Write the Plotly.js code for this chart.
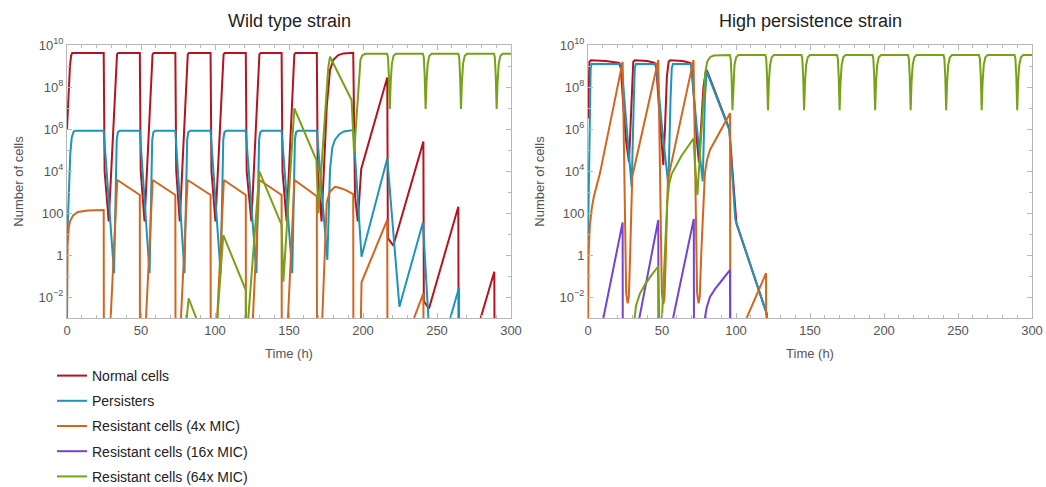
<!DOCTYPE html>
<html>
<head>
<meta charset="utf-8">
<script src="https://cdn.plot.ly/plotly-3.0.1.min.js"></script>
<style>
  html, body { margin: 0; padding: 0; background: #ffffff; }
  #chart { width: 1046px; height: 487px; }
</style>
</head>
<body>
<div id="chart"></div>
<script>
// ---- Data: [time (h), log10(number of cells)]; [null,null] = gap ----
const seriesNames = ["Normal cells", "Persisters", "Resistant cells (4x MIC)", "Resistant cells (16x MIC)", "Resistant cells (64x MIC)"];
const panelTitles = ["Wild type strain", "High persistence strain"];
const yTickVals = [1e-2, 1, 100, 1e4, 1e6, 1e8, 1e10];
const yTickText = ["10<sup>\u22122</sup>", "1", "100", "10<sup>4</sup>", "10<sup>6</sup>", "10<sup>8</sup>", "10<sup>10</sup>"];
const yMinorVals = [1e-3, 1e-1, 10, 1e3, 1e5, 1e7, 1e9];
const xTickVals = [0, 50, 100, 150, 200, 250, 300];

// Wild type strain
const wtNormal = [[0,6.0],[0.8,7.3],[2.0,9.0],[2.8,9.5],[3.5,9.62],[24.8,9.62],[25.4,4.0],[28.2,1.6],[33.8,9.55],[34.6,9.62],
  [49.2,9.62],[49.8,4.0],[52.4,1.6],[57.8,9.55],[58.6,9.62],[73.2,9.62],[73.8,4.0],[76.2,1.6],[81.6,9.55],[82.4,9.62],
  [97.0,9.62],[97.6,4.0],[100.3,1.6],[105.8,9.55],[106.6,9.62],[120.8,9.62],[121.4,4.0],[124.6,1.6],[130.0,9.55],[130.8,9.62],
  [145.0,9.62],[145.6,4.0],[148.4,1.6],[153.6,9.55],[154.4,9.62],[168.8,9.62],[169.4,4.0],[172.0,1.6],[175.5,7.06],[177.7,8.8],
  [180.0,9.3],[183.3,9.52],[187.0,9.6],[193.4,9.63],[194.0,6.0],[194.6,2.8],[196.5,1.6],[198.8,4.1],[216.4,8.45],[216.8,0.8],
  [220.5,0.45],[240.8,5.4],[241.1,-2.2],[244.6,-2.55],[264.4,2.3],[264.6,-4],[null,null],[279.5,-3.0],[288.7,-0.8],[288.9,-4]];
const wtPersisters = [[0,0.5],[0.6,1.5],[2.2,4.8],[3.2,5.6],[4.5,5.88],[6,5.92],[24.8,5.92],[31.8,-0.87],[33.6,5.5],[34.4,5.85],[35.6,5.92],
  [49.2,5.92],[55.8,-0.87],[57.6,5.5],[58.4,5.85],[59.6,5.92],[73.2,5.92],[79.4,-0.87],[81.2,5.5],[82.0,5.85],[83.4,5.92],
  [97.0,5.92],[103.8,-0.87],[105.6,5.5],[106.4,5.85],[107.6,5.92],[120.8,5.92],[128.0,-0.87],[129.8,5.5],[130.6,5.85],[131.8,5.92],
  [145.0,5.92],[152.2,-0.87],[154.0,5.5],[154.8,5.85],[156.0,5.92],[168.8,5.92],[175.9,-0.24],[177.7,4.05],[179.2,5.1],[181.0,5.48],
  [184.0,5.75],[187.0,5.88],[193.5,5.95],[199.0,-0.08],[216.4,4.6],[224.6,-2.46],[240.5,1.55],[244.8,-3.0],[245.0,-4],[null,null],
  [259.0,-3.0],[264.9,-1.55],[265.0,-4]];
const wtResistant4 = [[0,-3.5],[0.4,0.5],[1.2,1.3],[2.0,1.6],[4.3,1.9],[7.4,2.05],[14,2.12],[24.8,2.14],[24.9,-4],[null,null],
  [29.5,-3.0],[34.0,3.57],[49.2,2.86],[49.3,-4],[null,null],[53.4,-3.0],[57.9,3.57],[73.2,2.86],[73.3,-4],[null,null],
  [77.0,-3.0],[81.5,3.57],[97.0,2.86],[97.1,-4],[null,null],[101.5,-3.0],[106.0,3.57],[120.8,2.86],[120.9,-4],[null,null],
  [125.6,-3.0],[130.0,3.57],[145.0,2.86],[145.1,-4],[null,null],[149.3,-3.0],[153.7,3.57],[168.8,2.8],[168.9,-4],[null,null],
  [172.5,-3.0],[175.5,2.5],[177.5,3.0],[181.0,3.25],[184.0,3.2],[188.0,3.1],[193.4,2.9],[193.5,-4],[null,null],
  [198.6,-3.0],[199.0,-1.3],[216.4,1.67],[216.5,-4],[null,null],[234.5,-3.0],[240.8,-1.82],[240.9,-4]];
const wtResistant64 = [[80.9,-3.0],[82.2,-2.06],[87.8,-3.1],[null,null],[101.6,-3.0],[105.6,0.95],[120.8,-1.67],[120.9,-4],[null,null],
  [122.5,-3.0],[130.0,3.97],[145.0,1.43],[146.2,-1.27],[153.6,6.98],[168.5,4.52],[169.8,1.98],[176.5,8.9],[177.7,9.44],
  [192.3,7.38],[194.0,4.84],[198.3,9.3],[199.5,9.5],[201.5,9.58],
  [216.3,9.58],[216.9,9.4],[217.5,8.5],[218.1,6.95],[218.7,8.2],[219.5,9.1],[220.6,9.48],[222.1,9.58],
  [240.5,9.58],[241.1,9.4],[241.7,8.5],[242.3,6.95],[242.9,8.2],[243.7,9.1],[244.8,9.48],[246.3,9.58],
  [264.4,9.58],[265.0,9.4],[265.6,8.5],[266.2,6.95],[266.8,8.2],[267.6,9.1],[268.7,9.48],[270.2,9.58],
  [288.5,9.58],[289.1,9.4],[289.7,8.5],[290.3,6.95],[290.9,8.2],[291.7,9.1],[292.8,9.48],[294.3,9.58],[300,9.58]];

// High persistence strain
const hpNormal = [[0,6.5],[0.5,8.5],[1.0,9.2],[2.0,9.27],[12,9.24],[21.0,9.15],[22.2,8.9],[23.9,7.06],[25.8,5.4],[27.7,4.44],
  [28.6,6.0],[29.8,8.5],[30.6,9.2],[31.6,9.27],[40,9.24],[45.0,9.15],[46.2,8.9],[48.0,7.0],[49.6,5.3],[50.9,4.29],
  [52.0,6.0],[53.3,8.5],[54.5,9.2],[55.5,9.27],[64,9.24],[69.0,9.15],[70.2,8.9],[72.0,7.0],[73.6,5.4],[75.0,4.4],
  [76.3,6.0],[78.0,8.0],[79.5,8.7],[80.3,8.8],[95.5,6.0],[98.5,3.0],[100.3,1.5],[120.7,-2.78],[120.8,-4]];
const hpPersisters = [[0,0.7],[1.2,6.0],[1.8,8.9],[2.5,9.1],[12,9.1],[22.7,9.1],[26.1,6.1],[29.5,3.25],[31.0,7.5],[31.6,8.9],[32.4,9.1],
  [46.0,9.1],[50.0,6.1],[54.3,3.3],[55.8,7.5],[56.6,8.9],[57.4,9.1],[69.5,9.1],[73.5,6.1],[77.5,3.5],[79.0,7.5],[80.2,8.73],
  [95.5,5.95],[99.5,1.7],[120.7,-2.78],[120.8,-4]];
const hpResistant4 = [[0,-3.5],[0.4,0.0],[1.2,1.35],[2.5,2.2],[4.0,2.8],[6.0,3.4],[8.1,3.9],[23.4,9.2],[24.0,6.0],[25.0,0.5],
  [25.8,-1.8],[26.8,-2.3],[27.6,-2.0],[28.4,-0.2],[29.2,2.2],[29.9,3.73],[47.5,9.29],[48.1,6.0],[49.1,0.5],[49.9,-1.8],
  [50.9,-2.35],[51.7,-2.0],[52.5,-0.2],[53.3,2.2],[54.0,3.6],[71.3,9.29],[71.9,6.0],[72.9,0.5],[73.7,-1.8],[74.7,-2.3],
  [75.5,-2.0],[76.6,0.2],[78.0,2.6],[79.0,3.9],[80.5,4.55],[82.4,5.0],[96.0,6.75],[96.1,-4],[null,null],
  [107.2,-3.0],[120.3,-0.87],[120.4,-4]];
const hpResistant16 = [[10.4,-3.0],[23.4,1.55],[23.5,-4],[null,null],[34.7,-3.0],[47.5,1.67],[47.6,-4],[null,null],
  [57.5,-3.0],[71.5,1.72],[71.6,-4],[null,null],[79.0,-3.0],[80.2,-2.5],[82.4,-2.0],[86,-1.6],[90,-1.25],[96.0,-0.71],[96.1,-4]];
const hpResistant64 = [[31.5,-3.0],[32.5,-2.4],[35,-1.85],[39,-1.35],[43,-0.95],[47.3,-0.56],[48.5,-4],[null,null],
  [50.0,-3.0],[52.0,0.5],[53.5,2.5],[54.9,3.41],[56.5,3.85],[63,4.7],[70.0,5.45],[71.3,5.55],[72.3,4.3],[73.9,2.86],
  [76.0,5.2],[78.0,7.5],[79.3,8.7],[80.5,9.2],[82.4,9.42],[85,9.5],[89,9.52],
  [95.8,9.52],[96.4,9.35],[97.0,8.5],[97.6,6.9],[98.2,8.2],[99.0,9.05],[100.1,9.42],[101.6,9.52],
  [119.8,9.52],[120.4,9.35],[121.0,8.5],[121.6,6.9],[122.2,8.2],[123.0,9.05],[124.1,9.42],[125.6,9.52],
  [144.2,9.52],[144.8,9.35],[145.4,8.5],[146.0,6.9],[146.6,8.2],[147.4,9.05],[148.5,9.42],[150.0,9.52],
  [168.2,9.52],[168.8,9.35],[169.4,8.5],[170.0,6.9],[170.6,8.2],[171.4,9.05],[172.5,9.42],[174.0,9.52],
  [192.2,9.52],[192.8,9.35],[193.4,8.5],[194.0,6.9],[194.6,8.2],[195.4,9.05],[196.5,9.42],[198.0,9.52],
  [216.2,9.52],[216.8,9.35],[217.4,8.5],[218.0,6.9],[218.6,8.2],[219.4,9.05],[220.5,9.42],[222.0,9.52],
  [240.2,9.52],[240.8,9.35],[241.4,8.5],[242.0,6.9],[242.6,8.2],[243.4,9.05],[244.5,9.42],[246.0,9.52],
  [264.2,9.52],[264.8,9.35],[265.4,8.5],[266.0,6.9],[266.6,8.2],[267.4,9.05],[268.5,9.42],[270.0,9.52],
  [288.2,9.52],[288.8,9.35],[289.4,8.5],[290.0,6.9],[290.6,8.2],[291.4,9.05],[292.5,9.42],[294.0,9.52],[300,9.52]];

const colors = ["#B3141D", "#1D95B8", "#D2661F", "#7443D0", "#77A116"];

// ---- Build traces ----
function tr(pairs, idx, panel, showLeg) {
  return {
    type: "scatter", mode: "lines",
    x: pairs.map(p => p[0]),
    y: pairs.map(p => p[1] === null ? null : Math.pow(10, p[1])),
    name: seriesNames[idx], legendgroup: "g" + idx, showlegend: showLeg,
    xaxis: panel === 0 ? "x" : "x2", yaxis: panel === 0 ? "y" : "y2",
    line: {color: colors[idx], width: 2}, connectgaps: false, hoverinfo: "skip"
  };
}
const data = [
  tr(wtNormal, 0, 0, true), tr(hpNormal, 0, 1, false),
  tr(wtPersisters, 1, 0, true), tr(hpPersisters, 1, 1, false),
  tr(wtResistant4, 2, 0, true), tr(hpResistant4, 2, 1, false),
  tr(hpResistant16, 3, 1, true),
  tr(wtResistant64, 4, 0, true), tr(hpResistant64, 4, 1, false)
];

const W = 1046, H = 487;
const frame = "#b8b8b8";
const FONT = "Liberation Sans, Arial, sans-serif";
const tickFont = {family: FONT, size: 13, color: "#555"};
function xAx(dom, anchor) {
  return {
    domain: dom, anchor: anchor, automargin: false, range: [0, 300], tickvals: xTickVals,
    ticks: "inside", ticklen: 5, tickcolor: frame,
    minor: {dtick: 10, ticks: "inside", ticklen: 3, tickcolor: frame},
    showline: true, linecolor: frame, linewidth: 1, mirror: "ticks",
    showgrid: false, zeroline: false, tickfont: tickFont,
    title: {text: "Time (h)", font: {family: FONT, size: 13, color: "#555"}, standoff: 12}
  };
}
function yAx(anchor) {
  return {
    type: "log", domain: [(H - 318) / H, (H - 45) / H], range: [-3, 10], anchor: anchor, automargin: false,
    tickvals: yTickVals, ticktext: yTickText, ticks: "inside", ticklen: 5, tickcolor: frame,
    minor: {tickvals: yMinorVals, ticks: "inside", ticklen: 3, tickcolor: frame},
    showline: true, linecolor: frame, linewidth: 1, mirror: "ticks",
    showgrid: false, zeroline: false, tickfont: tickFont,
    title: {text: "Number of cells", font: {family: FONT, size: 13, color: "#555"}, standoff: 12}
  };
}

const layout = {
  width: W, height: H,
  margin: {l: 0, r: 0, t: 0, b: 0, pad: 0, autoexpand: false},
  paper_bgcolor: "#ffffff", plot_bgcolor: "#ffffff",
  font: {family: FONT, color: "#333"},
  xaxis: xAx([67 / W, 511 / W], "y"), yaxis: yAx("x"),
  xaxis2: xAx([588 / W, 1032 / W], "y2"), yaxis2: yAx("x2"),
  showlegend: true,
  legend: {
    x: 52 / W, y: (H - 360) / H, xanchor: "left", yanchor: "top",
    traceorder: "grouped", tracegroupgap: 4, bgcolor: "rgba(0,0,0,0)",
    font: {family: FONT, size: 14, color: "#222"}
  },
  annotations: [
    {text: panelTitles[0], xref: "paper", yref: "paper", x: 289 / W, y: (H - 21) / H, xanchor: "center", yanchor: "middle",
     showarrow: false, font: {family: FONT, size: 18, color: "#222"}},
    {text: panelTitles[1], xref: "paper", yref: "paper", x: 810 / W, y: (H - 21) / H, xanchor: "center", yanchor: "middle",
     showarrow: false, font: {family: FONT, size: 18, color: "#222"}}
  ]
};

Plotly.newPlot("chart", data, layout, {displayModeBar: false, staticPlot: true});
</script>
</body>
</html>
